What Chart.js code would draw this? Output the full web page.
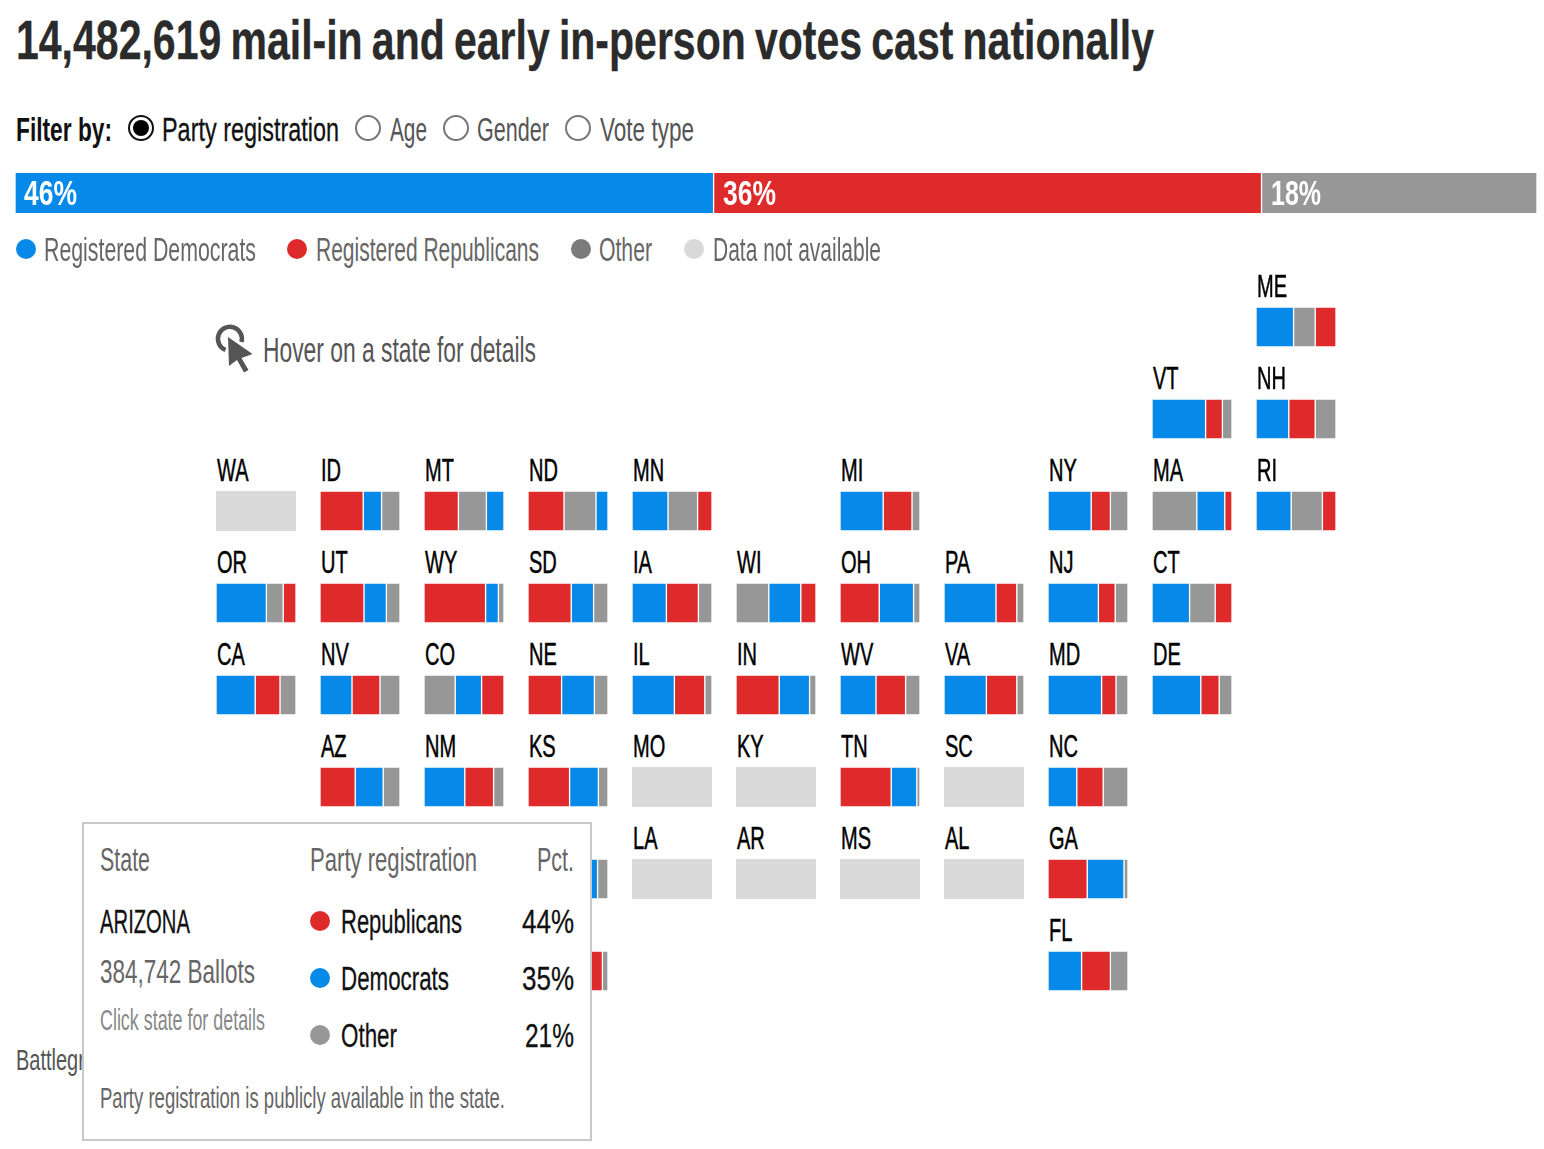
<!DOCTYPE html>
<html>
<head>
<meta charset="utf-8">
<title>Early votes by state</title>
<script src="https://cdn.jsdelivr.net/npm/chart.js@4/dist/chart.umd.js"></script>
<style>
  html, body { margin: 0; background: #fff; }
  #page { position: relative; width: 1544px; height: 1149px; overflow: hidden; }
  #page canvas { position: absolute; }
  .t { position: absolute; white-space: nowrap; transform-origin: 0 0; font-family: "Liberation Sans", sans-serif; }
  .dot { position: absolute; border-radius: 50%; }
  #tip { position: absolute; left: 82px; top: 822px; width: 506px; height: 315px; background: #fff; border: 2px solid #c8c8c8; z-index: 5; }
  #tipLayer { position: absolute; left: 0; top: 0; z-index: 6; }
</style>
</head>
<body>
<div id="page">
  <svg style="position:absolute;left:0;top:0" width="260" height="400">
    <path d="M225.5 350 A12 12 0 1 1 241.5 342" fill="none" stroke="#555" stroke-width="4.5"/>
    <polygon points="228,337 252.5,354 241.5,358 248.5,370 244,372.5 237,360 229,366" fill="#555"/>
  </svg>
</div>
<script>
// Overall split
const totalLabels = ['Registered Democrats', 'Registered Republicans', 'Other'];
const totalValues = [45.9, 36, 18.1];

// Tile grid, west to east, north to south
const tileRows = [
  '. . . . . . . . . . ME',
  '. . . . . . . . . VT NH',
  'WA ID MT ND MN . MI . NY MA RI',
  'OR UT WY SD IA WI OH PA NJ CT',
  'CA NV CO NE IL IN WV VA MD DE',
  '. AZ NM KS MO KY TN SC NC',
  '. . . OK LA AR MS AL GA',
  '. . . TX . . . . FL'
];
// These two sit behind the open state card, their names never show
const coveredLabels = ['OK', 'TX'];

// Registration share per state, null = data not available
const states   = ['ME','VT','NH','WA','ID','MT','ND','MN','MI','NY','MA','RI','OR','UT','WY','SD','IA','WI','OH','PA','NJ','CT','CA','NV','CO','NE','IL','IN','WV','VA','MD','DE','AZ','NM','KS','MO','KY','TN','SC','NC','OK','LA','AR','MS','AL','GA','TX','FL'];
const demPct   = [47,67,41,null,23,22,15,45,54,54,35,44,63,28,16,28,43,40,43,65,63,47,49,40,33,41,53,38,45,53,67,61,35,51,36,null,null,32,null,36,37,null,null,null,null,46,50,42];
const repPct   = [26,21,33,null,54,43,45,18,36,24,9,17,16,55,77,54,40,19,49,26,21,21,31,35,28,42,38,54,37,38,18,23,44,36,52,null,null,64,null,33,50,null,null,null,null,49,43,36];
const otherPct = [27,12,26,null,23,35,40,37,10,22,56,39,21,17,7,18,17,41,8,9,16,32,20,25,39,17,9,8,18,9,15,16,21,13,12,null,null,4,null,31,13,null,null,null,null,5,7,22];

const COLORS = { dem: '#0789e9', rep: '#de2a2b', other: '#979797', na: '#d9d9d9' };
const page = document.getElementById('page');
const measure = document.createElement('canvas').getContext('2d');

// Put one text with its left edge, baseline, width and height fixed to the reference
function put(text, x, base, width, cap, color, opts = {}) {
  const el = document.createElement('span');
  const size = cap / 0.66;
  const weight = opts.bold ? 'bold' : 'normal';
  el.className = 't';
  el.textContent = text;
  el.style.fontSize = size + 'px';
  el.style.fontWeight = weight;
  el.style.color = color;
  if (opts.stroke) el.style.webkitTextStroke = opts.stroke + 'px ' + color;
  if (opts.wordSpacing) el.style.wordSpacing = opts.wordSpacing + 'px';
  (opts.parent || page).appendChild(el);
  measure.font = `${weight} ${size}px "Liberation Sans", sans-serif`;
  const ascent = measure.measureText(text).fontBoundingBoxAscent;
  const natural = el.getBoundingClientRect().width;
  const w = width || natural * opts.squeeze;
  el.style.left = (opts.right ? x - w : x) + 'px';
  el.style.top = (base - ascent) + 'px';
  el.style.transform = `scaleX(${w / natural})`;
  return el;
}

function dot(x, y, d, color, parent) {
  const el = document.createElement('div');
  el.className = 'dot';
  el.style.cssText = `left:${x - d / 2}px;top:${y - d / 2}px;width:${d}px;height:${d}px;background:${color}`;
  (parent || page).appendChild(el);
  return el;
}

function stackedBar(left, top, width, height, segments, border) {
  const canvas = document.createElement('canvas');
  canvas.width = width;
  canvas.height = height;
  canvas.style.left = left + 'px';
  canvas.style.top = top + 'px';
  canvas.style.width = width + 'px';
  canvas.style.height = height + 'px';
  page.appendChild(canvas);
  return new Chart(canvas.getContext('2d'), {
    type: 'bar',
    data: {
      labels: [''],
      datasets: segments.map(s => ({
        label: s.label,
        data: [s.value],
        backgroundColor: s.color,
        borderColor: '#fff',
        borderWidth: border,
        borderSkipped: false,
        barPercentage: 1,
        categoryPercentage: 1
      }))
    },
    options: {
      indexAxis: 'y',
      responsive: false,
      animation: false,
      devicePixelRatio: 1,
      events: [],
      layout: { padding: 0 },
      plugins: { legend: { display: false }, tooltip: { enabled: false } },
      scales: {
        x: { display: false, stacked: true, min: 0, max: segments.reduce((a, s) => a + s.value, 0) },
        y: { display: false, stacked: true }
      }
    }
  });
}

// Title and filter row
put('14,482,619 mail-in and early in-person votes cast nationally', 16, 58, 1138, 37, '#2b2b2b', { bold: true, stroke: 0.3, wordSpacing: -3 });
put('Filter by:', 16, 141, 96, 22, '#111', { bold: true });
const radios = [[141, true], [368, false], [456, false], [578, false]];
radios.forEach(([cx, on]) => {
  const r = dot(cx, 128, 26, '#fff');
  r.style.boxSizing = 'border-box';
  r.style.border = on ? '2px solid #111' : '2px solid #777';
  if (on) dot(cx, 128, 16, '#000');
});
put('Party registration', 162, 141, 177, 22, '#111', { stroke: 0.3 });
put('Age', 390, 141, 37, 22, '#555');
put('Gender', 477, 141, 72, 22, '#555');
put('Vote type', 600, 141, 94, 22, '#555');

// Overall bar
const topColors = [COLORS.dem, COLORS.rep, COLORS.other];
const topChart = stackedBar(15, 173, 1522, 40,
  totalValues.map((v, i) => ({ label: totalLabels[i], value: v, color: topColors[i] })), { left: 1, right: 1, top: 0, bottom: 0 });
let running = 0;
totalValues.forEach((v, i) => {
  put(Math.round(v) + '%', 15 + topChart.scales.x.getPixelForValue(running) + 9, 205, i === 2 ? 50 : 53, 23, '#fff', { bold: true });
  running += v;
});

// Legend
const legendItems = [
  ['Registered Democrats', 26, '#0789e9', 44, 212],
  ['Registered Republicans', 297, '#de2a2b', 316, 223],
  ['Other', 581, '#7b7b7b', 599, 53],
  ['Data not available', 694, '#d9d9d9', 713, 168]
];
legendItems.forEach(([label, cx, color, tx, w]) => {
  dot(cx, 249, 20, color);
  put(label, tx, 261, w, 22, '#666');
});

put('Hover on a state for details', 263, 362, 273, 23, '#555');
put('Battleground states', 16, 1070, 172, 20, '#555');

// State tiles
tileRows.forEach((row, r) => {
  row.split(' ').forEach((code, c) => {
    if (code === '.') return;
    const left = 216 + c * 104;
    const top = 307 + r * 92;
    if (!coveredLabels.includes(code)) {
      put(code, left + 1, top - 10, 0, 21, '#000', { squeeze: 0.63, stroke: 0.5 });
    }
    const i = states.indexOf(code);
    if (demPct[i] === null) {
      stackedBar(left, top, 80, 40, [{ label: 'Data not available', value: 100, color: COLORS.na }], 0);
      return;
    }
    const segments = [
      { label: 'Democrats', value: demPct[i], color: COLORS.dem },
      { label: 'Republicans', value: repPct[i], color: COLORS.rep },
      { label: 'Other', value: otherPct[i], color: COLORS.other }
    ].sort((a, b) => b.value - a.value);
    stackedBar(left, top, 80, 40, segments, 1);
  });
});

// Open state card, Arizona
const tip = document.createElement('div');
tip.id = 'tip';
page.appendChild(tip);
const tipLayer = document.createElement('div');
tipLayer.id = 'tipLayer';
page.appendChild(tipLayer);
const az = states.indexOf('AZ');
const onTip = { parent: tipLayer };
put('State', 100, 871, 50, 22, '#666', onTip);
put('Party registration', 310, 871, 167, 22, '#666', onTip);
put('Pct.', 574, 871, 37, 22, '#666', { ...onTip, right: true });
put('ARIZONA', 100, 933, 90, 22, '#111', { ...onTip, stroke: 0.3 });
put('384,742 Ballots', 100, 983, 155, 22, '#666', onTip);
put('Click state for details', 100, 1030, 165, 19, '#888', onTip);
const azRows = [
  ['Republicans', repPct[az], COLORS.rep, 121],
  ['Democrats', demPct[az], COLORS.dem, 108],
  ['Other', otherPct[az], COLORS.other, 56]
];
azRows.forEach(([label, value, color, w], i) => {
  const y = 921 + i * 57;
  dot(320, y, 20, color, tipLayer);
  put(label, 341, y + 12, w, 22, '#111', { ...onTip, stroke: 0.3 });
  put(value + '%', 574, y + 12, i === 2 ? 49 : 52, 22, '#111', { ...onTip, right: true, stroke: 0.3 });
});
put('Party registration is publicly available in the state.', 100, 1108, 405, 19, '#666', onTip);
</script>
</body>
</html>
